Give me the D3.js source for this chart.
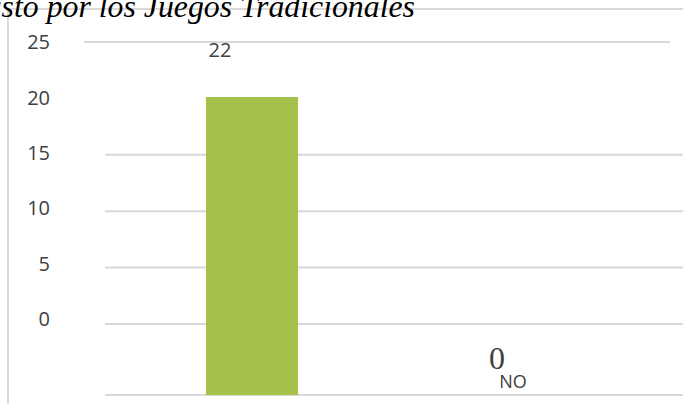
<!DOCTYPE html>
<html>
<head>
<meta charset="utf-8">
<script src="https://cdn.jsdelivr.net/npm/d3@7/dist/d3.min.js"></script>
<style>
  html, body { margin: 0; padding: 0; background: #ffffff; overflow: hidden; }
  svg { display: block; }
</style>
</head>
<body>
<script>
// Data
const categories = ["SI", "NO"];
const values = [22, 0];
const tickLabels = ["25", "20", "15", "10", "5", "0"];
const title = "Gusto por los Juegos Tradicionales";

const W = 683, H = 404;
const gridColor = "#d9d9d9";
const barColor = "#a5c14a";
const textColor = "#404040";

const svg = d3.select("body").append("svg")
  .attr("width", W).attr("height", H);

// Scales
const x = d3.scaleBand()
  .domain(categories)
  .range([129.5, 619.5])
  .paddingInner(0.624)
  .paddingOuter(0.312);

const y = d3.scaleLinear()
  .domain([0, 25])
  .range([395, 56.4]);

// tick label rows and gridline rows
const yLabel = d3.scalePoint().domain(tickLabels).range([42, 319]);
const yGrid = d3.scalePoint().domain(tickLabels).range([42, 324]);

// Outer frame (top and left edges)
svg.append("line")
  .attr("x1", 8).attr("x2", W).attr("y1", 9).attr("y2", 9)
  .attr("stroke", gridColor).attr("stroke-width", 2);
svg.append("line")
  .attr("x1", 8).attr("x2", 8).attr("y1", 9).attr("y2", H)
  .attr("stroke", gridColor).attr("stroke-width", 2);

// Gridlines (the 20 row lies on the bar top and is not drawn)
svg.append("g").selectAll("line")
  .data(tickLabels.filter(t => t !== "20"))
  .join("line")
  .attr("x1", d => d === "25" ? 84 : 105)
  .attr("x2", d => d === "25" ? 670 : W)
  .attr("y1", d => yGrid(d)).attr("y2", d => yGrid(d))
  .attr("stroke", gridColor).attr("stroke-width", 2);

// Baseline
svg.append("line")
  .attr("x1", 105).attr("x2", W)
  .attr("y1", y(0)).attr("y2", y(0))
  .attr("stroke", gridColor).attr("stroke-width", 2);

// Y tick labels
svg.append("g").selectAll("text")
  .data(tickLabels)
  .join("text")
  .attr("x", 50)
  .attr("y", d => yLabel(d))
  .attr("dy", "0.36em")
  .attr("text-anchor", "end")
  .attr("font-family", "'Open Sans', sans-serif")
  .attr("font-size", 20)
  .attr("fill", textColor)
  .text(d => d);

// Bars
svg.append("g").selectAll("rect")
  .data(categories.map((c, i) => ({ c, v: values[i] })))
  .join("rect")
  .attr("x", d => x(d.c))
  .attr("width", x.bandwidth())
  .attr("y", d => y(d.v))
  .attr("height", d => y(0) - y(d.v))
  .attr("fill", barColor);

// Value labels
const cx = c => x(c) + x.bandwidth() / 2;
svg.append("text")
  .attr("x", cx("SI") - 32)
  .attr("y", 57)
  .attr("text-anchor", "middle")
  .attr("font-family", "'Open Sans', sans-serif")
  .attr("font-size", 20)
  .attr("fill", textColor)
  .text(values[0]);

svg.append("text")
  .attr("x", cx("NO"))
  .attr("y", 369)
  .attr("text-anchor", "middle")
  .attr("font-family", "'Liberation Serif', 'Times New Roman', serif")
  .attr("font-size", 32)
  .attr("fill", textColor)
  .text(values[1]);

// Category label
svg.append("text")
  .attr("x", cx("NO") + 16)
  .attr("y", 388)
  .attr("text-anchor", "middle")
  .attr("font-family", "'Open Sans', sans-serif")
  .attr("font-size", 18)
  .attr("fill", textColor)
  .text("NO");

// Title
svg.append("text")
  .attr("x", 415)
  .attr("y", 17)
  .attr("text-anchor", "end")
  .attr("font-family", "'Liberation Serif', 'Times New Roman', serif")
  .attr("font-style", "italic")
  .attr("font-size", 31.8)
  .attr("fill", "#000000")
  .text(title);
</script>
</body>
</html>
